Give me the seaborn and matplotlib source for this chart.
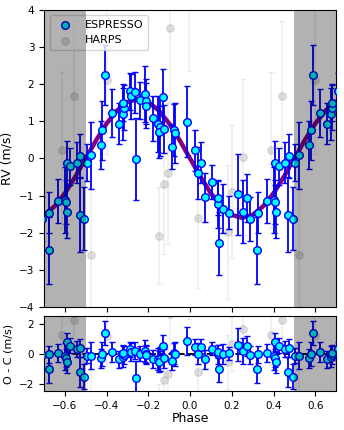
import numpy as np
import pandas as pd
import matplotlib
matplotlib.use("Agg")
import matplotlib.pyplot as plt
import seaborn as sns

# ESPRESSO radial velocities, folded phase in [-0.5, 0.5]
esp_phase = [-0.496, -0.476, -0.428, -0.420, -0.409, -0.376, -0.342, -0.322, -0.318, -0.320,
             -0.290, -0.281, -0.264, -0.259, -0.239, -0.216, -0.213, -0.210, -0.180, -0.152,
             -0.142, -0.148, -0.131, -0.125, -0.088, -0.077, -0.072, -0.017, 0.024, 0.040,
             0.054, 0.070, 0.104, 0.132, 0.136, 0.141, 0.157, 0.189, 0.232, 0.252,
             0.272, 0.288, 0.325, 0.323, 0.368, 0.401, 0.406, 0.411, 0.408, 0.424,
             0.456, 0.472, 0.471, 0.492]
esp_rv = [-0.11, 0.09, 0.36, 0.76, 2.25, 1.22, 0.94, 1.21, 1.37, 1.50,
          1.81, 1.67, 1.78, -0.02, 1.57, 1.73, 1.54, 1.42, 1.08, 0.93,
          0.86, 0.72, 1.66, 0.79, 0.32, 0.77, 0.68, 0.99, 0.22, -0.40,
          -0.11, -1.05, -0.63, -1.22, -1.06, -2.28, -1.35, -1.46, -0.97, -1.43,
          -1.06, -1.63, -1.46, -2.47, -1.15, -1.12, -1.17, -1.43, -0.12, -0.21,
          -0.11, 0.07, -1.51, -1.62]
esp_err = [0.50, 0.90, 0.65, 0.80, 0.80, 0.65, 0.55, 0.70, 0.60, 0.50,
           0.50, 0.60, 0.55, 1.10, 0.50, 0.75, 0.60, 0.60, 0.60, 0.75,
           0.80, 0.70, 0.75, 0.65, 0.60, 0.70, 0.80, 0.95, 0.55, 0.70,
           0.55, 0.65, 0.45, 0.65, 0.45, 0.85, 0.65, 0.45, 1.10, 0.85,
           0.65, 0.60, 0.55, 0.90, 0.60, 0.90, 0.60, 0.70, 0.60, 0.50,
           0.55, 0.60, 1.00, 0.85]

# HARPS radial velocities
harps_phase = [-0.476, -0.400, -0.147, -0.125, -0.104, -0.095, -0.007, 0.040, 0.180, 0.202,
               0.256, 0.388, 0.443]
harps_rv = [-2.60, 2.12, -2.08, -0.68, -0.40, 3.51, 4.35, -1.60, -1.98, -0.89,
            0.04, 0.23, 1.69]
harps_err = [1.8, 2.0, 1.3, 1.9, 1.9, 2.0, 2.0, 1.9, 1.8, 1.8, 2.1, 2.1, 2.0]

# model curve
model_phase = [-0.70, -0.65, -0.60, -0.55, -0.50, -0.45, -0.40, -0.35, -0.30, -0.25,
               -0.20, -0.15, -0.10, -0.05, 0.00, 0.05, 0.10, 0.15, 0.20, 0.25,
               0.30, 0.35, 0.40, 0.45, 0.50, 0.55, 0.60, 0.65, 0.70]
model_rv = [-1.52, -1.29, -0.94, -0.49, 0.00, 0.49, 0.94, 1.29, 1.52, 1.60,
            1.52, 1.29, 0.94, 0.49, 0.00, -0.49, -0.94, -1.29, -1.52, -1.60,
            -1.52, -1.29, -0.94, -0.49, 0.00, 0.49, 0.94, 1.29, 1.52]


def folded(phase, rv, err):
    df = pd.DataFrame({"phase": phase, "rv": rv, "err": err})
    df["oc"] = df["rv"] - np.interp(df["phase"], model_phase, model_rv)
    # repeat the orbit on either side
    parts = []
    for shift in (-1, 0, 1):
        d = df.copy()
        d["phase"] = d["phase"] + shift
        parts.append(d)
    out = pd.concat(parts, ignore_index=True)
    return out[(out["phase"] > -0.75) & (out["phase"] < 0.75)]


esp = folded(esp_phase, esp_rv, esp_err)
harps = folded(harps_phase, harps_rv, harps_err)
model = pd.DataFrame({"phase": model_phase, "rv": model_rv})

fig = plt.figure(figsize=(3.44, 4.3), dpi=100)
ax1 = fig.add_axes([0.128, 0.286, 0.849, 0.691])
ax2 = fig.add_axes([0.128, 0.0907, 0.849, 0.174])

for ax, ycol in ((ax1, "rv"), (ax2, "oc")):
    ax.errorbar(harps["phase"], harps[ycol], yerr=harps["err"], fmt="none",
                ecolor="gray", alpha=0.13, capsize=2, elinewidth=1.2, zorder=1)
    sns.scatterplot(data=harps, x="phase", y=ycol, ax=ax, s=30, color="gray",
                    edgecolor="gray", linewidth=0.8, alpha=0.25, zorder=2,
                    label="HARPS" if ax is ax1 else None)
    ax.errorbar(esp["phase"], esp[ycol], yerr=esp["err"], fmt="none",
                ecolor="blue", capsize=2, elinewidth=1.3, capthick=1, zorder=3)
    sns.scatterplot(data=esp, x="phase", y=ycol, ax=ax, s=30, color="cyan",
                    edgecolor="blue", linewidth=1, zorder=4,
                    label="ESPRESSO" if ax is ax1 else None)
    # shaded = repeated part of the orbit, drawn over everything incl. legend
    ax.axvspan(-0.7, -0.5, color="black", alpha=0.3, lw=0, zorder=10)
    ax.axvspan(0.5, 0.7, color="black", alpha=0.3, lw=0, zorder=10)
    ax.set_xlim(-0.7, 0.7)
    ax.set_xticks([-0.6, -0.4, -0.2, 0.0, 0.2, 0.4, 0.6])
    ax.tick_params(labelsize=7.5)

sns.lineplot(data=model, x="phase", y="rv", ax=ax1, color="purple", lw=3.2,
             zorder=2.5, legend=False)
ax2.axhline(0, color="black", ls="--", lw=1.3, zorder=2.5)

ax1.set_ylim(-4, 4)
ax1.set_yticks(range(-4, 5))
ax1.tick_params(labelbottom=False)
ax1.set_xlabel("")
ax1.set_ylabel("RV (m/s)", fontsize=9)
ax2.set_ylim(-2.5, 2.5)
ax2.set_yticks([-2, 0, 2])
ax2.set_xlabel("Phase", fontsize=9, labelpad=1)
ax2.set_ylabel("O - C (m/s)", fontsize=8)

h, l = ax1.get_legend_handles_labels()
order = [l.index("ESPRESSO"), l.index("HARPS")]
leg = ax1.legend([h[i] for i in order], [l[i] for i in order], loc="upper left",
                 fontsize=8, framealpha=0.8)
leg.set_zorder(5)
if ax2.get_legend() is not None:
    ax2.get_legend().remove()

fig.align_ylabels([ax1, ax2])
fig.savefig("out.png", dpi=100)
